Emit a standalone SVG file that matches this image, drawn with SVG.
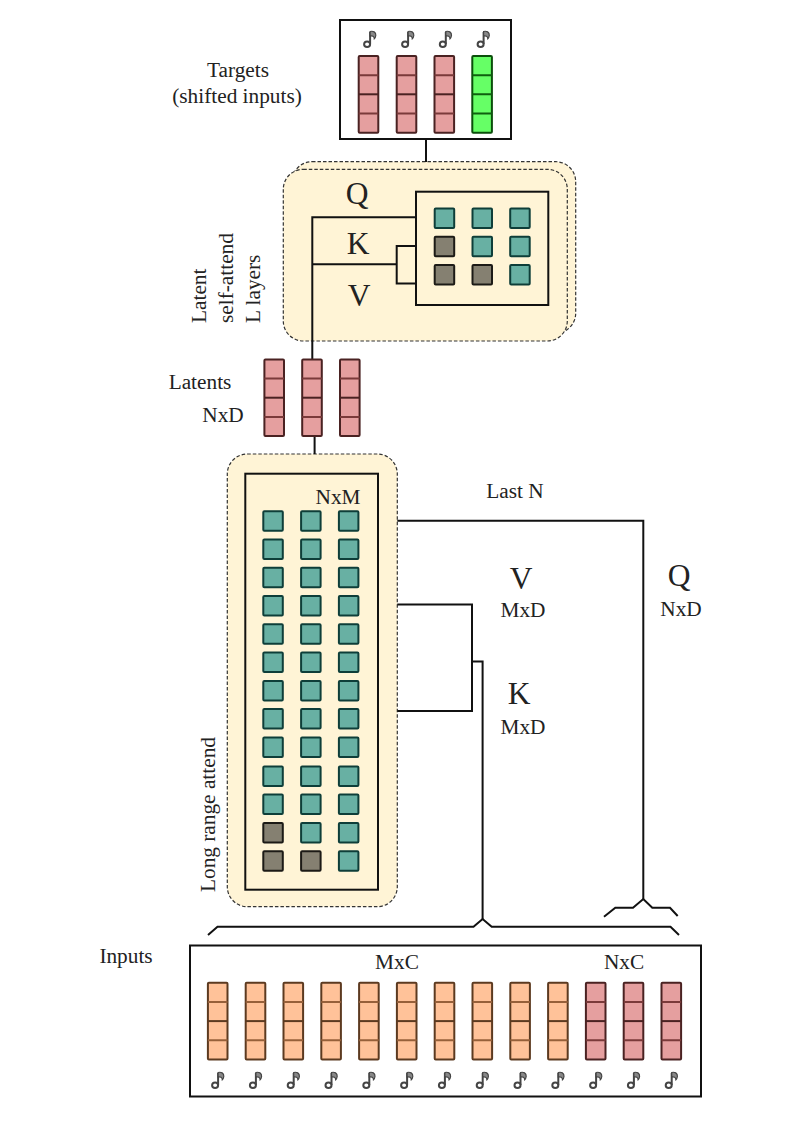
<svg xmlns="http://www.w3.org/2000/svg" width="794" height="1123" viewBox="0 0 794 1123">
<style>
text{font-family:"Liberation Serif","Times New Roman",serif;fill:#222;text-anchor:middle}
.s{font-size:21.3px}.l{font-size:31.5px}
.v{text-anchor:start}
.box{fill:#fff;stroke:#111;stroke-width:2}
.inner{fill:#fff4d6;stroke:#111;stroke-width:2}
.blk{fill:#fff4d6;stroke:#333;stroke-width:1.2;stroke-dasharray:3.5 2}
.w{fill:none;stroke:#111;stroke-width:2;stroke-linejoin:miter}
.t{fill:#68b0a3;stroke:#0e3e39;stroke-width:2}
.g{fill:#858071;stroke:#1c1a16;stroke-width:2}
</style>
<defs>
<rect id="teal" class="t" width="19.5" height="19.5" rx="1"/>
<rect id="gray" class="g" width="19.5" height="19.5" rx="1"/>
<g id="note"><path d="M6.6 13.5V1.5" fill="none" stroke="#444" stroke-width="2"/><path d="M6.6 1C9.5 .2 12.6 1.5 12.3 5C12.1 6.5 11.5 7.6 10.8 8.2C10.8 6 8.8 5 6.6 5.5Z" fill="#888" stroke="#444" stroke-width="1.2"/><ellipse cx="3.6" cy="13.8" rx="3" ry="2.8" fill="#fff" stroke="#444" stroke-width="2"/></g>
<g id="pink"><rect width="19.6" height="76.7" rx="1" fill="#e59f9f" stroke="#4a2222" stroke-width="2"/><path d="M0 19.2H19.6M0 57.5H19.6" stroke="#7a3a3a" stroke-width="2"/><path d="M0 38.3H19.6" stroke="#4a2222" stroke-width="2"/></g>
<g id="green"><rect width="19.6" height="76.7" rx="1" fill="#66ff66" stroke="#0b4f0b" stroke-width="2"/><path d="M0 19.2H19.6M0 38.3H19.6M0 57.5H19.6" stroke="#0f5f0f" stroke-width="2"/></g>
<g id="orange"><rect width="19.6" height="76.7" rx="1" fill="#ffc299" stroke="#5c3a20" stroke-width="2"/><path d="M0 19.2H19.6M0 57.5H19.6" stroke="#96603a" stroke-width="2"/><path d="M0 38.3H19.6" stroke="#5c3a20" stroke-width="2"/></g>
</defs>

<g id="latent-block"><rect class="blk" x="292" y="161.7" width="283.7" height="171.5" rx="20"/><rect class="blk" x="283.3" y="169.3" width="284" height="171.7" rx="20"/></g>

<g id="long-range-block"><rect class="blk" x="227.3" y="454" width="170" height="452.7" rx="20"/></g>

<g id="connectors">
<path class="w" d="M426 139V162"/>
<path class="w" d="M416 217.3H312.3V360M312.3 264.3H396.7M416 246H396.7V283.5H416"/>
<path class="w" d="M314.6 436V454"/>
<path class="w" d="M397.3 520.7H643.3V899"/>
<path class="w" d="M397.3 604.5H472V711H397.3M472 661.5H482.6V919"/>
<path class="w" d="M208 935L217.5 926.8H473.5L482.6 919L491.7 926.8H670.5L679 935"/>
<path class="w" d="M604 916.7L615.3 907.7H633L643.3 899L652.3 907.7H670L677.7 916"/>
</g>

<g id="targets"><rect class="box" x="340" y="20" width="171" height="119"/>
<use href="#note" x="363.5" y="30.5"/><use href="#note" x="401.5" y="30.5"/><use href="#note" x="439.2" y="30.5"/><use href="#note" x="477" y="30.5"/>
<use href="#pink" x="358.7" y="56"/><use href="#pink" x="396.7" y="56"/><use href="#pink" x="434.5" y="56"/><use href="#green" x="472.3" y="56"/>
</g>

<g id="attention-small"><rect class="inner" x="416" y="191.7" width="132.3" height="113.3"/>
<use href="#teal" x="434.7" y="208.4"/><use href="#teal" x="472.5" y="208.4"/><use href="#teal" x="510.2" y="208.4"/>
<use href="#gray" x="434.7" y="236.7"/><use href="#teal" x="472.5" y="236.7"/><use href="#teal" x="510.2" y="236.7"/>
<use href="#gray" x="434.7" y="265"/><use href="#gray" x="472.5" y="265"/><use href="#teal" x="510.2" y="265"/>
</g>

<g id="latents"><use href="#pink" x="264.4" y="359.4"/><use href="#pink" x="302.2" y="359.4"/><use href="#pink" x="340" y="359.4"/></g>

<g id="attention-long"><rect class="inner" x="245.3" y="473.7" width="132.7" height="416"/>
<use href="#teal" x="263.3" y="511.2"/><use href="#teal" x="301.1" y="511.2"/><use href="#teal" x="338.9" y="511.2"/>
<use href="#teal" x="263.3" y="539.5"/><use href="#teal" x="301.1" y="539.5"/><use href="#teal" x="338.9" y="539.5"/>
<use href="#teal" x="263.3" y="567.8"/><use href="#teal" x="301.1" y="567.8"/><use href="#teal" x="338.9" y="567.8"/>
<use href="#teal" x="263.3" y="596"/><use href="#teal" x="301.1" y="596"/><use href="#teal" x="338.9" y="596"/>
<use href="#teal" x="263.3" y="624.3"/><use href="#teal" x="301.1" y="624.3"/><use href="#teal" x="338.9" y="624.3"/>
<use href="#teal" x="263.3" y="652.6"/><use href="#teal" x="301.1" y="652.6"/><use href="#teal" x="338.9" y="652.6"/>
<use href="#teal" x="263.3" y="680.9"/><use href="#teal" x="301.1" y="680.9"/><use href="#teal" x="338.9" y="680.9"/>
<use href="#teal" x="263.3" y="709.1"/><use href="#teal" x="301.1" y="709.1"/><use href="#teal" x="338.9" y="709.1"/>
<use href="#teal" x="263.3" y="737.4"/><use href="#teal" x="301.1" y="737.4"/><use href="#teal" x="338.9" y="737.4"/>
<use href="#teal" x="263.3" y="766.5"/><use href="#teal" x="301.1" y="766.5"/><use href="#teal" x="338.9" y="766.5"/>
<use href="#teal" x="263.3" y="794.5"/><use href="#teal" x="301.1" y="794.5"/><use href="#teal" x="338.9" y="794.5"/>
<use href="#gray" x="263.3" y="823"/><use href="#teal" x="301.1" y="823"/><use href="#teal" x="338.9" y="823"/>
<use href="#gray" x="263.3" y="851.3"/><use href="#gray" x="301.1" y="851.3"/><use href="#teal" x="338.9" y="851.3"/>
</g>

<g id="inputs"><rect class="box" x="190" y="945.5" width="511" height="151"/>
<use href="#orange" x="207.9" y="982.8"/><use href="#orange" x="245.7" y="982.8"/><use href="#orange" x="283.5" y="982.8"/><use href="#orange" x="321.3" y="982.8"/><use href="#orange" x="359.1" y="982.8"/><use href="#orange" x="396.9" y="982.8"/><use href="#orange" x="434.7" y="982.8"/><use href="#orange" x="472.5" y="982.8"/><use href="#orange" x="510.3" y="982.8"/><use href="#orange" x="548.1" y="982.8"/>
<use href="#pink" x="585.9" y="982.8"/><use href="#pink" x="623.7" y="982.8"/><use href="#pink" x="661.5" y="982.8"/>
<use href="#note" x="211.5" y="1071.5"/><use href="#note" x="249.3" y="1071.5"/><use href="#note" x="287.1" y="1071.5"/><use href="#note" x="324.9" y="1071.5"/><use href="#note" x="362.7" y="1071.5"/><use href="#note" x="400.5" y="1071.5"/><use href="#note" x="438.3" y="1071.5"/><use href="#note" x="476.1" y="1071.5"/><use href="#note" x="513.9" y="1071.5"/><use href="#note" x="551.7" y="1071.5"/><use href="#note" x="589.5" y="1071.5"/><use href="#note" x="627.3" y="1071.5"/><use href="#note" x="665.1" y="1071.5"/>
</g>

<g id="labels">
<text class="s" x="238" y="76.5">Targets</text>
<text class="s" x="237" y="103">(shifted inputs)</text>
<text class="l" x="357" y="204">Q</text>
<text class="l" x="358" y="254">K</text>
<text class="l" x="359" y="306">V</text>
<text class="s v" transform="translate(205.5 323) rotate(-90)">Latent</text>
<text class="s v" transform="translate(233 323) rotate(-90)">self-attend</text>
<text class="s v" transform="translate(260 323) rotate(-90)">L layers</text>
<text class="s" x="200" y="389">Latents</text>
<text class="s" x="223" y="422">NxD</text>
<text class="s" x="338" y="503.5">NxM</text>
<text class="s" x="515" y="498">Last N</text>
<text class="l" x="521" y="589">V</text>
<text class="s" x="523" y="617">MxD</text>
<text class="l" x="679" y="586">Q</text>
<text class="s" x="681" y="616">NxD</text>
<text class="l" x="519" y="704">K</text>
<text class="s" x="523" y="734">MxD</text>
<text class="s v" transform="translate(215 892) rotate(-90)">Long range attend</text>
<text class="s" x="126" y="963">Inputs</text>
<text class="s" x="397" y="969">MxC</text>
<text class="s" x="624" y="969">NxC</text>
</g>
</svg>
